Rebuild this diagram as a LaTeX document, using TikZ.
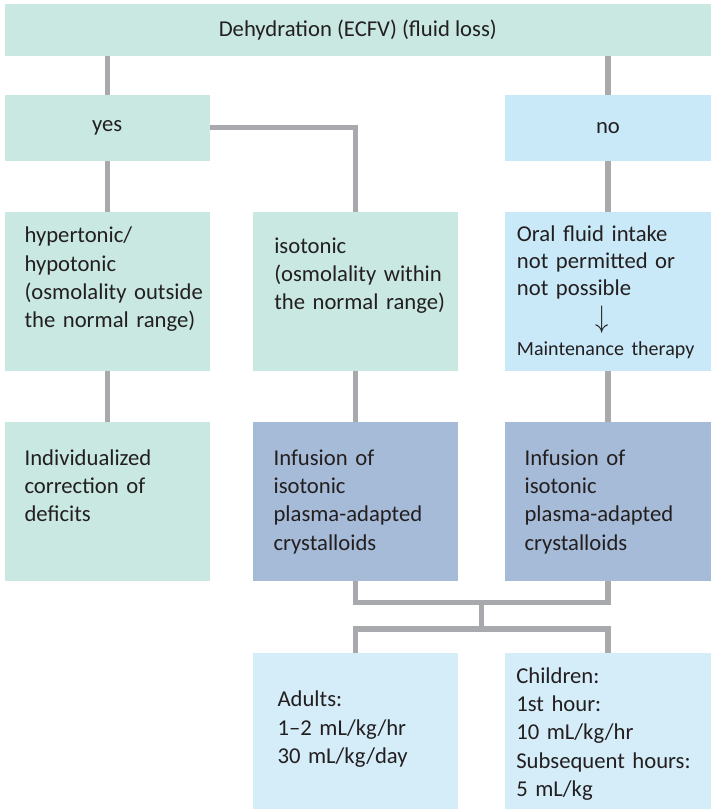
\documentclass[tikz,border=0pt]{standalone}
\usepackage{fontspec}
\setmainfont{Carlito}
\definecolor{mint}{HTML}{C8E8E1}
\definecolor{sky}{HTML}{C9E9F8}
\definecolor{steel}{HTML}{A6BBD7}
\definecolor{pale}{HTML}{D4EDF9}
\definecolor{wire}{HTML}{A7A9AC}
\definecolor{ink}{HTML}{231F20}

\begin{document}
\begin{tikzpicture}[x=0.75pt,y=-0.75pt,
  cell/.style={anchor=north west,inner sep=0pt,outer sep=0pt,minimum width=154pt,text=ink,font=\fontsize{17}{21.25}\selectfont},
  flat/.style={cell,minimum height=49.25pt},
  tall/.style={cell,minimum height=119pt},
  txt/.style={anchor=base west,inner sep=0pt,text width=150pt,align=left,text=ink,font=\fontsize{17}{21.25}\selectfont},
  link/.style={draw=wire,line width=3.8pt}]
\useasboundingbox (0,0) rectangle (711,809);
\node[cell,fill=mint,minimum width=530pt,minimum height=38.75pt] (top) at (4.5,4) {Dehydration (ECFV) (fluid loss)};
\node[flat,fill=mint] (yes) at (4.5,95) {yes};
\node[flat,fill=sky,minimum width=154.5pt] (no) at (505,95) {no};
\node[tall,fill=mint] (hyper) at (4.5,212) {};
\node[tall,fill=mint] (iso) at (252.7,212) {};
\node[tall,fill=sky,minimum width=154.5pt] (oral) at (505,212) {};
\node[tall,fill=mint] (indiv) at (4.5,422) {};
\node[tall,fill=steel] (inf1) at (252.7,422) {};
\node[tall,fill=steel,minimum width=154.5pt] (inf2) at (505,422) {};
\node[cell,fill=pale,minimum height=117.5pt] (adults) at (252.7,652.7) {};
\node[cell,fill=pale,minimum height=117.5pt,minimum width=154.5pt] (kids) at (505,652.7) {};
\node[txt] (hyperT) at (24.3,242.7) {hypertonic/\\hypotonic\\(osmolality outside\\the normal range)};
\node[txt] (isoT) at (274,253.3) {isotonic\\(osmolality within\\the normal range)};
\node[txt,font=\fontsize{17}{20}\selectfont] (oralT) at (516.7,241.7) {Oral fluid intake\\not permitted or\\not possible\\[4pt]\hspace*{59pt}\scalebox{1.15}[1.35]{$\downarrow$}\\[1pt]{\fontsize{15}{20}\selectfont Maintenance therapy}};
\node[txt] (indivT) at (24.3,465) {Individualized\\correction of\\deficits};
\node[txt] (inf1T) at (273.3,465) {Infusion of\\isotonic\\plasma-adapted\\crystalloids};
\node[txt] (inf2T) at (524.3,465) {Infusion of\\isotonic\\plasma-adapted\\crystalloids};
\node[txt] (adultsT) at (277.3,706.7) {Adults:\\1--2 mL/kg/hr\\30 mL/kg/day};
\node[txt] (kidsT) at (516,683.3) {Children:\\1st hour:\\10 mL/kg/hr\\Subsequent hours:\\5 mL/kg};
\coordinate (join) at (481.7,602.7);
\coordinate (split) at (481.7,629);
\draw[link] (top.south -| yes) -- (yes.north);
\draw[link] (top.south -| no) -- (no.north);
\draw[link] (yes.east) -| (iso.north);
\draw[link] (yes.south) -- (hyper.north);
\draw[link] (no.south) -- (oral.north);
\draw[link] (hyper.south) -- (indiv.north);
\draw[link] (iso.south) -- (inf1.north);
\draw[link] (oral.south) -- (inf2.north);
\draw[link] (inf1.south) |- (join) -| (inf2.south);
\draw[link] (join) -- (split);
\draw[link] (adults.north) |- (split) -| (kids.north);
\end{tikzpicture}
\end{document}
